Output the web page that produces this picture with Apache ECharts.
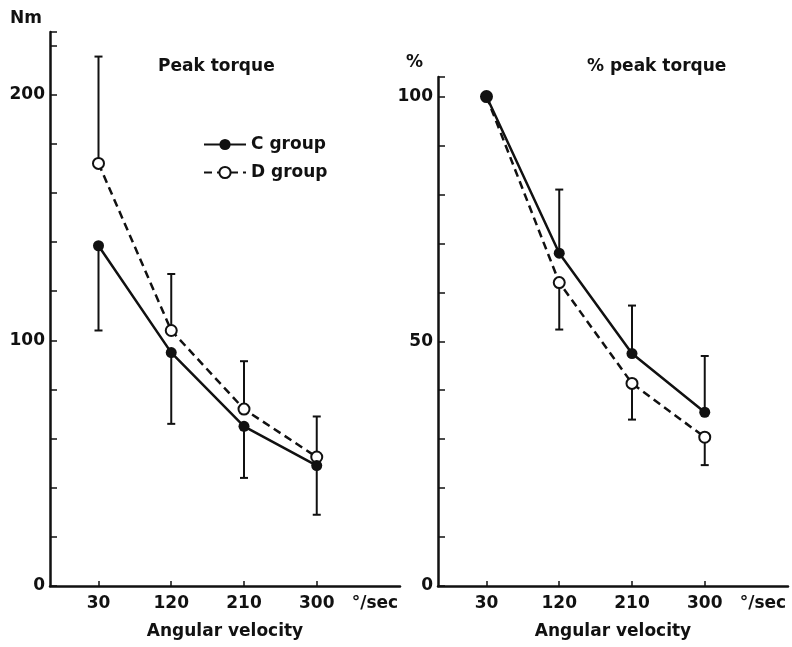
<!DOCTYPE html>
<html>
<head>
<meta charset="utf-8">
<title>Peak torque</title>
<script src="https://cdn.jsdelivr.net/npm/echarts@6/dist/echarts.min.js"></script>
<style>
	html,body{margin:0;padding:0;background:#fff;}
	#chart{width:792px;height:647px;}
</style>
</head>
<body>
<div id="chart"></div>
<script>
var velocities=[30,120,210,300];
var xTickLabels=['30','120','210','300'];

// Peak torque (Nm)
var cTorque=[138.5,95,65,49];
var cTorqueLow=[104,66,44,29];
var dTorque=[172,104,72,52.5];
var dTorqueHigh=[215.5,127,91.5,69];

// % peak torque
var cPct=[100,68,47.5,35.5];
var cPctHigh=[null,81,57.3,47];
var dPct=[100,62,41.4,30.4];
var dPctLow=[null,52.4,34,24.7];

var leftYLabels=[0,100,200];
var rightYLabels=[0,50,100];

var FONT='"DejaVu Sans", Arial, sans-serif';
var INK='#111';

function toPoints(xs,ys){
	var d=[];
	for(var i=0;i<xs.length;i++){
		d.push([xs[i],ys[i]]);
	}
	return d;
}

function toBars(xs,ys,ends){
	var d=[];
	for(var i=0;i<xs.length;i++){
		if(ends[i]==null) continue;
		d.push([xs[i],ys[i],ends[i]]);
	}
	return d;
}

function renderBar(params,api){
	var p=api.coord([api.value(0),api.value(1)]);
	var e=api.coord([api.value(0),api.value(2)]);
	var st={stroke:INK,lineWidth:2};
	return {
		type:'group',
		children:[
			{type:'line',shape:{x1:p[0],y1:p[1],x2:e[0],y2:e[1]},style:st},
			{type:'line',shape:{x1:e[0]-4,y1:e[1],x2:e[0]+4,y2:e[1]},style:st}
		]
	};
}

function xAxisOf(idx){
	return {
		type:'value',gridIndex:idx,min:-30,max:403,
		name:'Angular velocity',nameLocation:'middle',nameGap:37,
		nameTextStyle:{fontFamily:FONT,fontSize:17,fontWeight:'bold',color:INK},
		axisLine:{onZero:false,lineStyle:{color:INK,width:2.5}},
		axisTick:{inside:true,length:5,customValues:velocities,lineStyle:{color:INK,width:1.5}},
		axisLabel:{
			customValues:velocities.concat([372]),margin:9,
			fontFamily:FONT,fontSize:17,fontWeight:'bold',color:INK,
			formatter:function(v){
				var i=velocities.indexOf(v);
				return i>=0?xTickLabels[i]:'°/sec';
			}
		},
		splitLine:{show:false}
	};
}

function yAxisOf(idx,max,interval,labels){
	return {
		type:'value',gridIndex:idx,min:0,max:max,interval:interval,
		axisLine:{show:true,onZero:false,lineStyle:{color:INK,width:2.5}},
		axisTick:{show:true,inside:true,length:7,lineStyle:{color:INK,width:1.5}},
		axisLabel:{customValues:labels,margin:5,fontFamily:FONT,fontSize:17,fontWeight:'bold',color:INK},
		splitLine:{show:false}
	};
}

function lineSeries(name,idx,data,filled){
	return {
		name:name,type:'line',xAxisIndex:idx,yAxisIndex:idx,
		data:data,symbol:'circle',symbolSize:11,z:filled?6:5,
		lineStyle:{color:INK,width:2.5,type:filled?'solid':[8,5]},
		itemStyle:{color:filled?INK:'#fff',borderColor:INK,borderWidth:filled?0:2},
		emphasis:{disabled:true}
	};
}

function barSeries(name,idx,data){
	return {
		name:name,type:'custom',xAxisIndex:idx,yAxisIndex:idx,
		renderItem:renderBar,data:data,z:2,silent:true,
		encode:{x:0,y:[1,2]}
	};
}

var eChart=echarts.init(document.getElementById('chart'));
var option={
	backgroundColor:'#fff',
	animation:false,
	title:[
		{text:'Peak torque',left:153,top:53,textStyle:{fontFamily:FONT,fontSize:17,fontWeight:'bold',color:INK}},
		{text:'% peak torque',left:582,top:53,textStyle:{fontFamily:FONT,fontSize:17,fontWeight:'bold',color:INK}}
	],
	legend:{
		orient:'vertical',left:198,top:131,itemWidth:42,itemHeight:14,itemGap:11,
		data:['C group','D group'],
		textStyle:{fontFamily:FONT,fontSize:17,fontWeight:'bold',color:INK}
	},
	graphic:[
		{type:'text',left:10,top:10,style:{text:'Nm',font:'bold 17px '+FONT,fill:INK}},
		{type:'text',left:406,top:54,style:{text:'%',font:'bold 17px '+FONT,fill:INK}}
	],
	grid:[
		{left:50,top:32,width:350,height:554},
		{left:438,top:77,width:350,height:509}
	],
	xAxis:[xAxisOf(0),xAxisOf(1)],
	yAxis:[
		yAxisOf(0,225.5,20,leftYLabels),
		yAxisOf(1,104,10,rightYLabels)
	],
	series:[
		barSeries('C group SD',0,toBars(velocities,cTorque,cTorqueLow)),
		barSeries('D group SD',0,toBars(velocities,dTorque,dTorqueHigh)),
		lineSeries('C group',0,toPoints(velocities,cTorque),true),
		lineSeries('D group',0,toPoints(velocities,dTorque),false),
		barSeries('C group SD',1,toBars(velocities,cPct,cPctHigh)),
		barSeries('D group SD',1,toBars(velocities,dPct,dPctLow)),
		lineSeries('D group',1,toPoints(velocities,dPct),false),
		lineSeries('C group',1,toPoints(velocities,cPct),true)
	]
};
eChart.setOption(option);
</script>
</body>
</html>
